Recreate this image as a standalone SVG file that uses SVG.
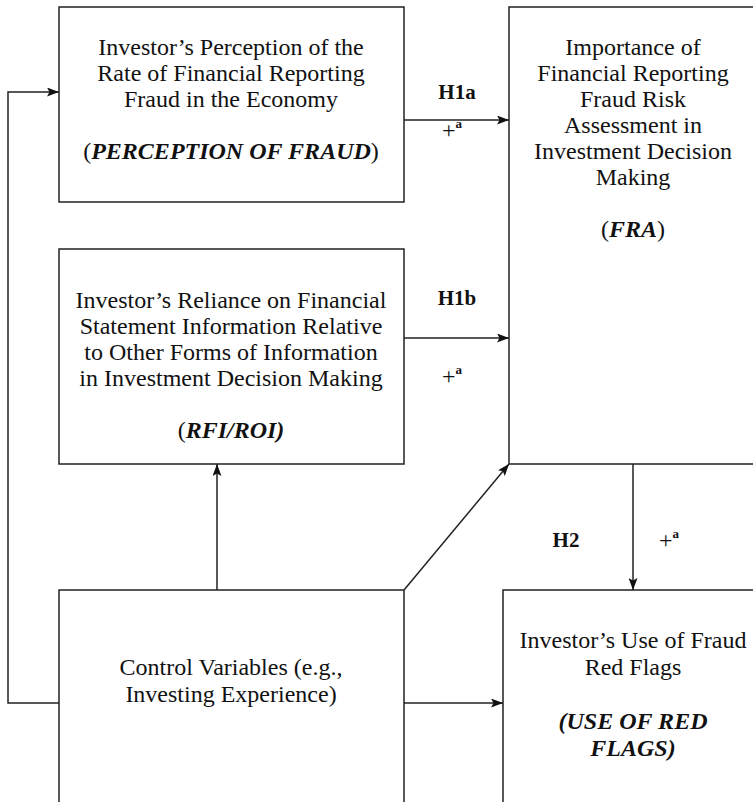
<svg xmlns="http://www.w3.org/2000/svg" width="753" height="802" viewBox="0 0 753 802">
<defs>
<marker id="ah" viewBox="0 0 12 9" refX="12" refY="4.5" markerWidth="12" markerHeight="9" markerUnits="userSpaceOnUse" orient="auto">
<path d="M0,0 L12,4.5 L0,9 L2.5,4.5 Z" fill="#111"/>
</marker>
</defs>
<style>
.box{fill:none;stroke:#222;stroke-width:1.5}
.t{font-family:"Liberation Serif","Times New Roman",serif;font-size:24px;fill:#111;text-anchor:middle}
.bi{font-weight:bold;font-style:italic}
.lab{font-family:"Liberation Serif","Times New Roman",serif;font-size:21px;font-weight:bold;fill:#111;text-anchor:middle}
.pl{font-family:"Liberation Serif","Times New Roman",serif;font-size:24px;fill:#111}
.sup{font-size:13px;font-weight:bold}
.c{fill:none;stroke:#222;stroke-width:1.5}
</style>
<rect width="753" height="802" fill="#fff"/>
<g id="perception">
<path class="box" d="M59,7 H404 V202 H59 Z"/>
<text class="t" x="231" y="55">Investor’s Perception of the</text>
<text class="t" x="231" y="81">Rate of Financial Reporting</text>
<text class="t" x="231" y="107">Fraud in the Economy</text>
<text class="t" x="231" y="159">(<tspan class="bi">PERCEPTION OF FRAUD</tspan>)</text>
</g>
<g id="reliance">
<path class="box" d="M59,249 H404 V464 H59 Z"/>
<text class="t" x="231" y="308">Investor’s Reliance on Financial</text>
<text class="t" x="231" y="334">Statement Information Relative</text>
<text class="t" x="231" y="360">to Other Forms of Information</text>
<text class="t" x="231" y="386">in Investment Decision Making</text>
<text class="t" x="231" y="438">(<tspan class="bi">RFI/ROI)</tspan></text>
</g>
<g id="fra">
<path class="box" d="M760,7 H509 V464 H760"/>
<text class="t" x="633" y="55">Importance of</text>
<text class="t" x="633" y="81">Financial Reporting</text>
<text class="t" x="633" y="107">Fraud Risk</text>
<text class="t" x="633" y="133">Assessment in</text>
<text class="t" x="633" y="159">Investment Decision</text>
<text class="t" x="633" y="185">Making</text>
<text class="t" x="633" y="237">(<tspan class="bi">FRA</tspan>)</text>
</g>
<g id="control">
<path class="box" d="M59,805 V590 H404 V805"/>
<text class="t" x="231" y="675">Control Variables (e.g.,</text>
<text class="t" x="231" y="702">Investing Experience)</text>
</g>
<g id="redflags">
<path class="box" d="M503,805 V590 H760"/>
<text class="t" x="633" y="648">Investor’s Use of Fraud</text>
<text class="t" x="633" y="675">Red Flags</text>
<text class="t bi" x="633" y="729">(USE OF RED</text>
<text class="t bi" x="633" y="756">FLAGS)</text>
</g>
<g id="connectors">
<line class="c" x1="404" y1="120" x2="509" y2="120" marker-end="url(#ah)"/>
<line class="c" x1="404" y1="338" x2="509" y2="338" marker-end="url(#ah)"/>
<line class="c" x1="633" y1="464" x2="633" y2="590" marker-end="url(#ah)"/>
<line class="c" x1="217" y1="590" x2="217" y2="464" marker-end="url(#ah)"/>
<line class="c" x1="404" y1="590" x2="509" y2="464" marker-end="url(#ah)"/>
<line class="c" x1="404" y1="703" x2="503" y2="703" marker-end="url(#ah)"/>
<polyline class="c" points="59,703 8,703 8,92 59,92" marker-end="url(#ah)"/>
<text class="lab" x="457" y="99">H1a</text>
<text class="pl" x="442" y="138">+<tspan class="sup" dy="-10">a</tspan></text>
<text class="lab" x="457" y="305">H1b</text>
<text class="pl" x="442" y="384">+<tspan class="sup" dy="-10">a</tspan></text>
<text class="lab" x="566" y="547">H2</text>
<text class="pl" x="659" y="548">+<tspan class="sup" dy="-10">a</tspan></text>
</g>
</svg>
